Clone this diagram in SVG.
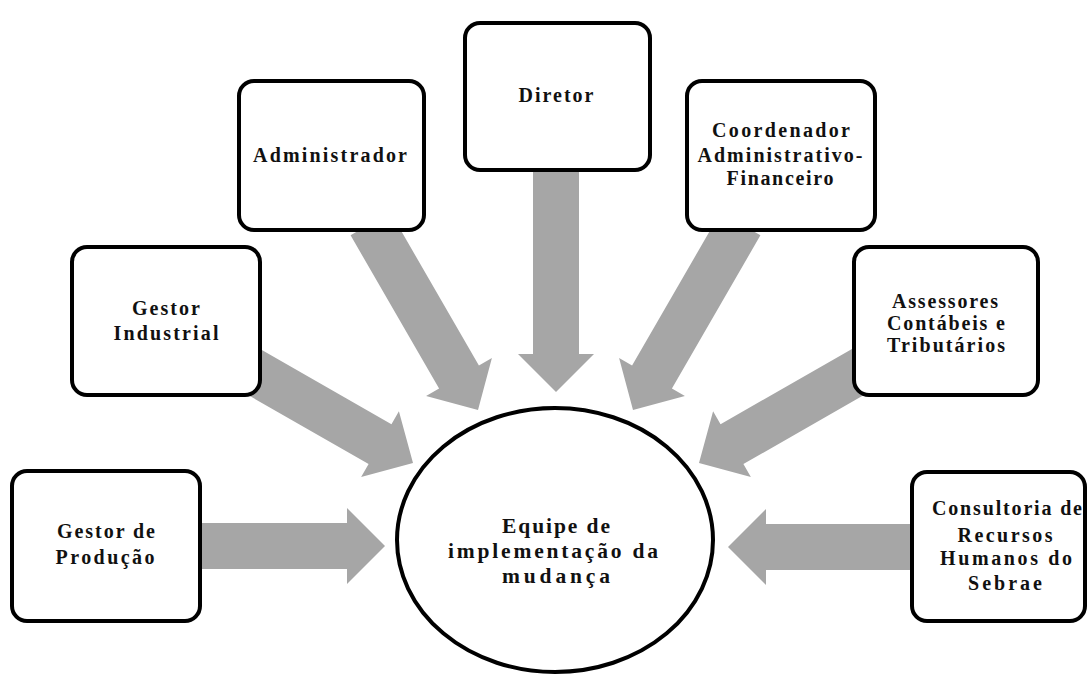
<svg xmlns="http://www.w3.org/2000/svg" width="1091" height="675" viewBox="0 0 1091 675">
<style>
.box{fill:#fff;stroke:#000;stroke-width:4}
.arr{fill:#a6a6a6}
.t{font-family:"Liberation Serif","Times New Roman",serif;font-weight:bold;font-size:20px;fill:#111;text-anchor:middle}
.tc{font-size:21.5px}
</style>
<rect width="1091" height="675" fill="#fff"/>
<g id="connectors">
<polygon class="arr" transform="translate(385,546) rotate(0)" points="-190,-23 -38,-23 -38,-38 0,0 -38,38 -38,23 -190,23"/>
<polygon class="arr" transform="translate(413,463) rotate(29.8)" points="-198,-23 -38,-23 -38,-38 0,0 -38,38 -38,23 -198,23"/>
<polygon class="arr" transform="translate(478,410) rotate(60)" points="-215,-23 -38,-23 -38,-38 0,0 -38,38 -38,23 -215,23"/>
<polygon class="arr" transform="translate(556,392) rotate(90)" points="-227,-23 -38,-23 -38,-38 0,0 -38,38 -38,23 -227,23"/>
<polygon class="arr" transform="translate(633,410) rotate(120)" points="-215,-23 -38,-23 -38,-38 0,0 -38,38 -38,23 -215,23"/>
<polygon class="arr" transform="translate(699,463) rotate(150.2)" points="-198,-23 -38,-23 -38,-38 0,0 -38,38 -38,23 -198,23"/>
<polygon class="arr" transform="translate(728,547) rotate(180)" points="-190,-23 -38,-23 -38,-38 0,0 -38,38 -38,23 -190,23"/>
</g>
<g id="gestor-producao">
<rect class="box" x="12" y="471" width="188" height="150" rx="15"/>
<text class="t" x="106" y="538" textLength="98" lengthAdjust="spacing">Gestor de</text>
<text class="t" x="105" y="564" textLength="99" lengthAdjust="spacing">Produção</text>
</g>
<g id="gestor-industrial">
<rect class="box" x="72" y="247" width="188" height="148" rx="15"/>
<text class="t" x="166" y="315" textLength="68" lengthAdjust="spacing">Gestor</text>
<text class="t" x="166" y="340" textLength="105" lengthAdjust="spacing">Industrial</text>
</g>
<g id="administrador">
<rect class="box" x="239" y="81" width="185" height="149" rx="15"/>
<text class="t" x="330" y="162" textLength="154" lengthAdjust="spacing">Administrador</text>
</g>
<g id="diretor">
<rect class="box" x="465" y="23" width="185" height="147" rx="15"/>
<text class="t" x="556" y="102" textLength="75" lengthAdjust="spacing">Diretor</text>
</g>
<g id="coordenador">
<rect class="box" x="687" y="81" width="188" height="149" rx="15"/>
<text class="t" x="781" y="137" textLength="138" lengthAdjust="spacing">Coordenador</text>
<text class="t" x="780" y="162" textLength="165" lengthAdjust="spacing">Administrativo-</text>
<text class="t" x="780" y="185" textLength="107" lengthAdjust="spacing">Financeiro</text>
</g>
<g id="assessores">
<rect class="box" x="854" y="247" width="184" height="148" rx="15"/>
<text class="t" x="945" y="308" textLength="106" lengthAdjust="spacing">Assessores</text>
<text class="t" x="946" y="330" textLength="118" lengthAdjust="spacing">Contábeis e</text>
<text class="t" x="946" y="352" textLength="118" lengthAdjust="spacing">Tributários</text>
</g>
<g id="consultoria">
<rect class="box" x="912" y="472" width="173" height="149" rx="15"/>
<text class="t" x="1007" y="515" textLength="150" lengthAdjust="spacing">Consultoria de</text>
<text class="t" x="1005" y="542" textLength="95" lengthAdjust="spacing">Recursos</text>
<text class="t" x="1006" y="565" textLength="132" lengthAdjust="spacing">Humanos do</text>
<text class="t" x="1005" y="590" textLength="74" lengthAdjust="spacing">Sebrae</text>
</g>
<g id="equipe">
<ellipse cx="555" cy="540" rx="158" ry="132" fill="#fff" stroke="#000" stroke-width="4"/>
<text class="t tc" x="556" y="533" textLength="108" lengthAdjust="spacing">Equipe de</text>
<text class="t tc" x="553" y="558" textLength="210" lengthAdjust="spacing">implementação da</text>
<text class="t tc" x="556" y="583" textLength="108" lengthAdjust="spacing">mudança</text>
</g>
</svg>
